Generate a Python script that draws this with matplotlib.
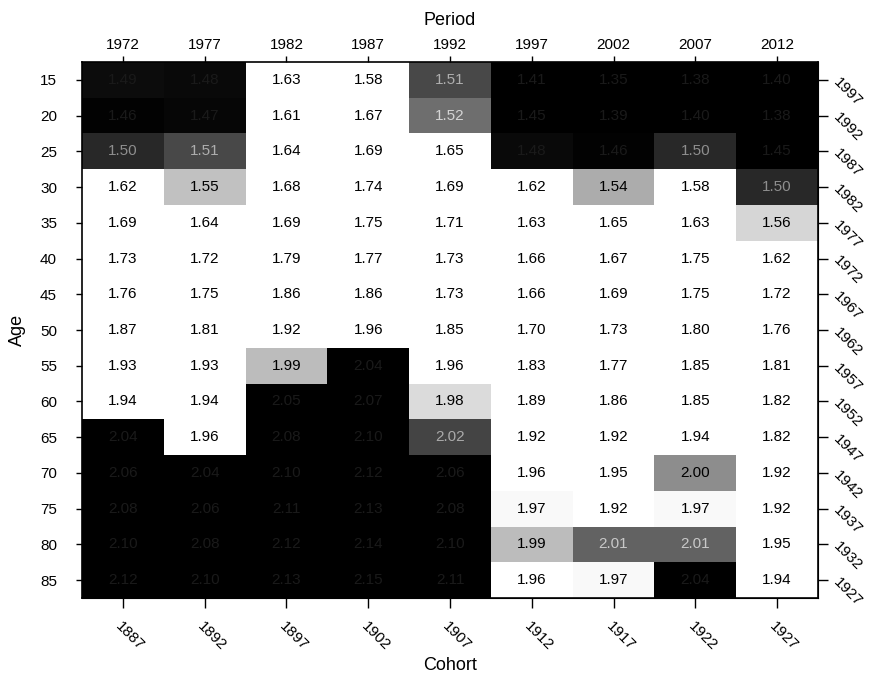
import numpy as np
import matplotlib
matplotlib.use("Agg")
import matplotlib.pyplot as plt
from matplotlib.colors import LinearSegmentedColormap, Normalize

plt.rcParams["font.family"] = ["Liberation Sans", "DejaVu Sans"]

# data: rows = age groups, columns = periods
ages = [15, 20, 25, 30, 35, 40, 45, 50, 55, 60, 65, 70, 75, 80, 85]
periods = [1972, 1977, 1982, 1987, 1992, 1997, 2002, 2007, 2012]
cohorts_bottom = ["1887", "1892", "1897", "1902", "1907", "1912", "1917", "1922", "1927"]
cohorts_right = ["1997", "1992", "1987", "1982", "1977", "1972", "1967", "1962",
                 "1957", "1952", "1947", "1942", "1937", "1932", "1927"]

age15 = [1.49, 1.48, 1.63, 1.58, 1.51, 1.41, 1.35, 1.38, 1.40]
age20 = [1.46, 1.47, 1.61, 1.67, 1.52, 1.45, 1.39, 1.40, 1.38]
age25 = [1.50, 1.51, 1.64, 1.69, 1.65, 1.48, 1.46, 1.50, 1.45]
age30 = [1.62, 1.55, 1.68, 1.74, 1.69, 1.62, 1.54, 1.58, 1.50]
age35 = [1.69, 1.64, 1.69, 1.75, 1.71, 1.63, 1.65, 1.63, 1.56]
age40 = [1.73, 1.72, 1.79, 1.77, 1.73, 1.66, 1.67, 1.75, 1.62]
age45 = [1.76, 1.75, 1.86, 1.86, 1.73, 1.66, 1.69, 1.75, 1.72]
age50 = [1.87, 1.81, 1.92, 1.96, 1.85, 1.70, 1.73, 1.80, 1.76]
age55 = [1.93, 1.93, 1.99, 2.04, 1.96, 1.83, 1.77, 1.85, 1.81]
age60 = [1.94, 1.94, 2.05, 2.07, 1.98, 1.89, 1.86, 1.85, 1.82]
age65 = [2.04, 1.96, 2.08, 2.10, 2.02, 1.92, 1.92, 1.94, 1.82]
age70 = [2.06, 2.04, 2.10, 2.12, 2.06, 1.96, 1.95, 2.00, 1.92]
age75 = [2.08, 2.06, 2.11, 2.13, 2.08, 1.97, 1.92, 1.97, 1.92]
age80 = [2.10, 2.08, 2.12, 2.14, 2.10, 1.99, 2.01, 2.01, 1.95]
age85 = [2.12, 2.10, 2.13, 2.15, 2.11, 1.96, 1.97, 2.04, 1.94]

values = np.array([age15, age20, age25, age30, age35, age40, age45, age50,
                   age55, age60, age65, age70, age75, age80, age85])

# grayscale diverging scale: dark at both ends, white in the middle
vmin, vmax = 1.45, 2.10
nodes = [(1.45, 0.0), (1.49, 0.05), (1.51, 0.3), (1.53, 0.6), (1.555, 0.8),
         (1.575, 0.97), (1.58, 1.0), (1.968, 1.0), (1.98, 0.86), (1.995, 0.68),
         (2.005, 0.45), (2.025, 0.22), (2.04, 0.0), (2.10, 0.0)]
cmap = LinearSegmentedColormap.from_list(
    "bw", [((v - vmin) / (vmax - vmin), (g, g, g)) for v, g in nodes])
norm = Normalize(vmin, vmax)

fig = plt.figure(figsize=(8.71, 6.75), dpi=100)
ax = fig.add_axes([82 / 871, 1 - 598 / 675, 736 / 871, 536 / 675])

x_edges = np.arange(len(periods) + 1) - 0.5
y_edges = np.arange(len(ages) + 1) - 0.5
ax.pcolormesh(x_edges, y_edges, values, cmap=cmap, norm=norm)
ax.set_xlim(-0.5, len(periods) - 0.5)
ax.set_ylim(len(ages) - 0.5, -0.5)

for i in range(len(ages)):
    for j in range(len(periods)):
        v = values[i, j]
        g = cmap(norm(v))[0]
        if g < 0.08:
            tc = (0.1, 0.1, 0.1)
        elif g < 0.5:
            t = min(g + 0.4, 0.85)
            tc = (t, t, t)
        else:
            tc = "black"
        ax.text(j, i, f"{v:.2f}", ha="center", va="center", fontsize=11, color=tc)

# period on top
ax.xaxis.tick_top()
ax.xaxis.set_label_position("top")
ax.set_xticks(range(len(periods)), [str(p) for p in periods], fontsize=11)
ax.set_xlabel("Period", fontsize=13, labelpad=9)
ax.set_yticks(range(len(ages)), [str(a) for a in ages], fontsize=11)
ax.set_ylabel("Age", fontsize=13, labelpad=10)
ax.tick_params(axis="x", direction="out", length=4, width=1)
ax.tick_params(axis="y", direction="out", length=4, width=1, pad=14)

# cohort on bottom and right
secx = ax.secondary_xaxis("bottom")
secx.set_ticks(range(len(periods)), cohorts_bottom, rotation=-45, ha="left",
               va="top", rotation_mode="anchor", fontsize=11)
secx.tick_params(direction="out", length=7, width=1, pad=8)
secx.set_xlabel("Cohort", fontsize=13, labelpad=3)

secy = ax.secondary_yaxis("right")
secy.set_ticks(range(len(ages)), cohorts_right, rotation=-45, ha="left",
               va="center", rotation_mode="anchor", fontsize=11)
secy.tick_params(direction="out", length=7, width=1, pad=6)

for s in ax.spines.values():
    s.set_linewidth(1.2)

fig.savefig("out.png", dpi=100)
